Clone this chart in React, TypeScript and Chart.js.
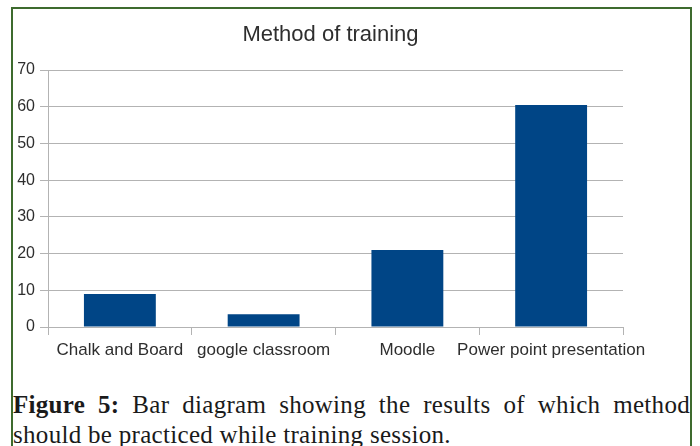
import React, { useEffect, useRef } from "react";
import { Chart, registerables } from "chart.js";

Chart.register(...registerables);

const categories = ["Chalk and Board", "google classroom", "Moodle", "Power point presentation"];
const values = [9, 3.5, 21, 60.5];
const yTicksMax = 70;
const yTicksStep = 10;
const chartTitle = "Method of training";
const captionBold = "Figure 5:";
const captionLine1 = " Bar diagram showing the results of which method";
const captionLine2 = "should be practiced while training session.";

const GRID = "#b3b3b3";
const TEXT = "#2e2e2e";
const BAR = "#004586";

export default function App() {
  const canvasRef = useRef<HTMLCanvasElement | null>(null);

  useEffect(() => {
    if (!canvasRef.current) return;
    const chart = new Chart(canvasRef.current, {
      type: "bar",
      data: {
        labels: categories,
        datasets: [
          {
            data: values,
            backgroundColor: BAR,
            borderWidth: 0,
            categoryPercentage: 1,
            barPercentage: 0.5,
            yAxisID: "y",
          },
        ],
      },
      options: {
        responsive: false,
        animation: false,
        devicePixelRatio: 1,
        layout: { padding: { top: 0, right: 0, bottom: 0, left: 0 } },
        plugins: {
          legend: { display: false },
          tooltip: { enabled: false },
          title: {
            display: true,
            text: chartTitle,
            color: TEXT,
            font: { family: "Liberation Sans", size: 22, weight: "normal" },
            padding: { top: 13, bottom: 21.6 },
          },
        },
        scales: {
          x: {
            offset: true,
            grid: {
              offset: true,
              drawOnChartArea: true,
              color: (ctx: any) =>
                ctx.index === 0 || ctx.index === categories.length ? GRID : "rgba(0,0,0,0)",
              tickColor: GRID,
              tickLength: 8,
              lineWidth: 1,
            },
            border: { display: true, color: GRID },
            ticks: {
              color: TEXT,
              font: { family: "Liberation Sans", size: 17 },
              padding: 5,
              maxRotation: 0,
              autoSkip: false,
            },
            afterFit: (s: any) => {
              s.height = 42;
              s.paddingLeft = 0;
              s.paddingRight = 0;
            },
          },
          y: {
            min: 0,
            max: yTicksMax,
            ticks: {
              stepSize: yTicksStep,
              color: TEXT,
              font: { family: "Liberation Sans", size: 16 },
              padding: 5,
            },
            grid: { color: GRID, tickColor: GRID, tickLength: 8, lineWidth: 1 },
            border: { display: true, color: GRID },
            afterFit: (s: any) => {
              s.width = 35;
            },
          },
          spacer: {
            type: "linear",
            position: "right",
            display: true,
            grid: { display: false, drawOnChartArea: false },
            border: { display: false },
            ticks: { display: false },
            afterFit: (s: any) => {
              s.width = 25;
            },
          },
        },
      } as any,
    });
    return () => chart.destroy();
  }, []);

  return (
    <div
      style={{
        position: "absolute",
        left: 0,
        top: 0,
        width: 700,
        height: 446,
        overflow: "hidden",
        background: "#ffffff",
      }}
    >
      <div
        style={{
          position: "absolute",
          left: 11,
          top: 7,
          width: 681,
          height: 480,
          border: "2px solid #3d6b2e",
          boxSizing: "border-box",
        }}
      />
      <canvas
        ref={canvasRef}
        width={635}
        height={360}
        style={{ position: "absolute", left: 13, top: 9, width: 635, height: 360 }}
      />
      <div
        style={{
          position: "absolute",
          left: 13,
          top: 390,
          width: 677,
          fontFamily: "'Liberation Serif', serif",
          fontSize: 25,
          lineHeight: "30px",
          letterSpacing: "0.3px",
          color: "#1a1a1a",
        }}
      >
        <div style={{ textAlign: "justify", textAlignLast: "justify", whiteSpace: "nowrap" as any }}>
          <b>{captionBold}</b>
          {captionLine1}
        </div>
        <div>{captionLine2}</div>
      </div>
    </div>
  );
}
